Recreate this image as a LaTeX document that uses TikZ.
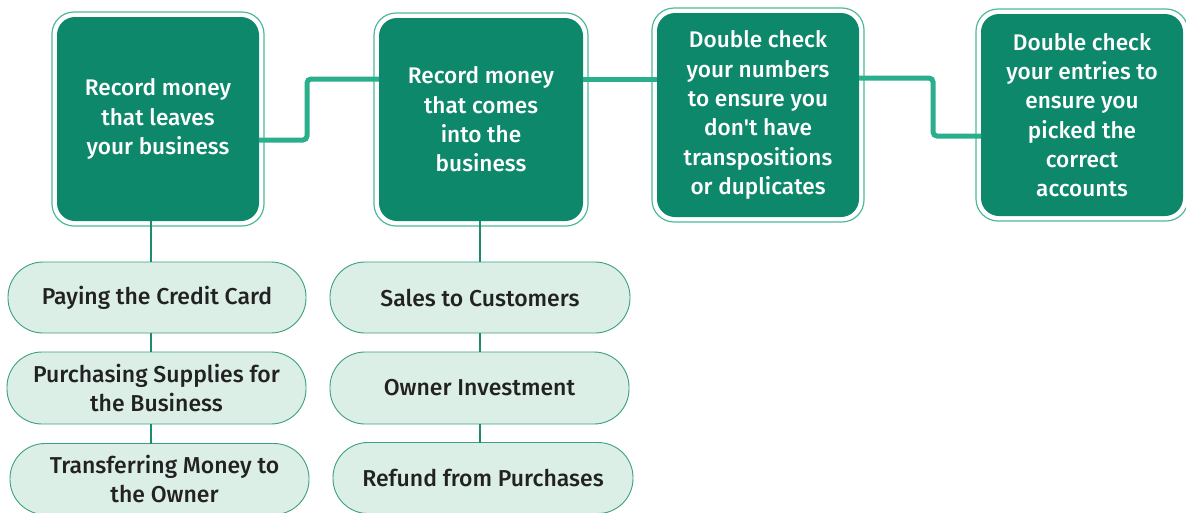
\documentclass[tikz,border=0pt]{standalone}
\usepackage{fontspec}
\setmainfont{Fira Sans Medium}
\usetikzlibrary{calc}
\definecolor{boxgreen}{HTML}{0E886B}
\definecolor{ringcol}{HTML}{4DB89B}
\definecolor{conncol}{HTML}{2AAE8C}
\definecolor{pillfill}{HTML}{DCEFE7}
\definecolor{pilldraw}{HTML}{3C9F80}
\definecolor{vlinecol}{HTML}{1E8A6E}
\definecolor{txtdark}{HTML}{222222}
\tikzset{
  gbox/.style={fill=boxgreen, draw=none, rounded corners=18pt, text=white, align=center,
    font=\fontsize{22.6}{29.3}\selectfont, inner sep=0pt, outer sep=0pt},
  ring/.style={draw=ringcol, line width=1.2pt, rounded corners=22pt},
  pill/.style={fill=pillfill, draw=pilldraw, line width=0.9pt, rounded corners=35pt,
    text=txtdark, align=center, font=\fontsize{23}{29}\selectfont, inner sep=0pt,
    outer sep=0pt, minimum height=71pt},
  conn/.style={draw=conncol, line width=5pt, rounded corners=4pt},
  vline/.style={draw=vlinecol, line width=1.6pt}
}
\begin{document}
\begin{tikzpicture}[x=1pt,y=-1pt]
\useasboundingbox (0,0) rectangle (1186,512);
% main boxes
\node[gbox, minimum width=202pt, minimum height=204pt] (b1) at (158,119)
  {Record money\\that leaves\\your business};
\node[gbox, minimum width=204pt, minimum height=203pt] (b2) at (481,119.5)
  {Record money\\that comes\\into the\\business};
\node[gbox, minimum width=202pt, minimum height=204pt] (b3) at (758,115)
  {Double check\\your numbers\\to ensure you\\don\textquotesingle t have\\transpositions\\or duplicates};
\node[gbox, minimum width=202pt, minimum height=202pt] (b4) at (1082,115)
  {Double check\\your entries to\\ensure you\\picked the\\correct\\accounts};
\foreach \b in {b1,b2,b3,b4}{
  \draw[ring] ([xshift=-5pt,yshift=5pt]\b.north west) rectangle ([xshift=5pt,yshift=-5pt]\b.south east);
}
% connectors between boxes
\draw[conn] (b1.east |- 0,140) -- (307,140) -- (307,79) -- (b2.west |- 0,79);
\draw[conn] (b2.east |- 0,79) -- (b3.west |- 0,79);
\draw[conn] (b3.east |- 0,78) -- (933,78) -- (933,136) -- (b4.west |- 0,136);
% pills left
\node[pill, minimum width=298pt] (p1) at (157,297.5) {Paying the Credit Card};
\node[pill, minimum width=299pt, minimum height=72pt] (p2) at (156.5,388) {Purchasing Supplies for\\the Business};
\node[pill, minimum width=299pt] (p3) at (159.5,479) {\hspace*{10pt}Transferring Money to\\\hspace*{10pt}the Owner};
% pills right
\node[pill, minimum width=300pt] (q1) at (480,297.5) {Sales to Customers};
\node[pill, minimum width=299pt, minimum height=72pt] (q2) at (479.5,388) {Owner Investment};
\node[pill, minimum width=300pt] (q3) at (483,478) {Refund from Purchases};
% vertical lines
\draw[vline] (b1.south -| 151,0) -- (p1.north -| 151,0);
\draw[vline] (p1.south -| 151,0) -- (p2.north -| 151,0);
\draw[vline] (p2.south -| 151,0) -- (p3.north -| 151,0);
\draw[vline] (b2.south -| 480,0) -- (q1.north -| 480,0);
\draw[vline] (q1.south -| 480,0) -- (q2.north -| 480,0);
\draw[vline] (q2.south -| 480,0) -- (q3.north -| 480,0);
\end{tikzpicture}
\end{document}
